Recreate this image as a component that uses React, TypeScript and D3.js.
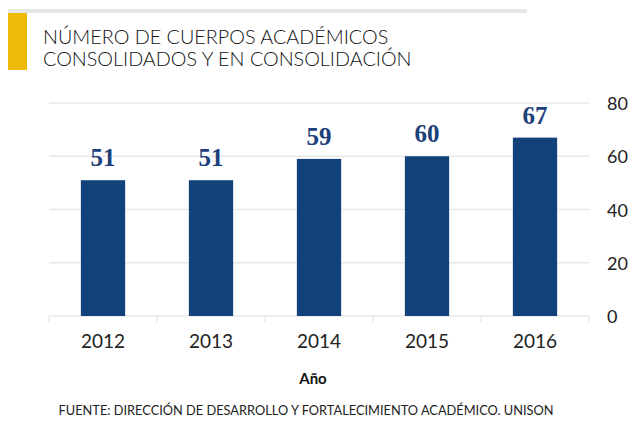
import React, { useRef, useEffect } from "react";
import * as d3 from "d3";

const years = ["2012", "2013", "2014", "2015", "2016"];
const values = [51, 51, 59, 60, 67];
const yTicks = [0, 20, 40, 60, 80];
const titleLines = ["NÚMERO DE CUERPOS ACADÉMICOS", "CONSOLIDADOS Y EN CONSOLIDACIÓN"];
const xTitle = "Año";
const source = "FUENTE: DIRECCIÓN DE DESARROLLO Y FORTALECIMIENTO ACADÉMICO. UNISON";

const App = () => {
    const ref = useRef<SVGSVGElement>(null);

    useEffect(() => {
        if (!ref.current) return;
        const svg = d3.select(ref.current);
        svg.selectAll("*").remove();

        const sans = "Lato, 'Open Sans', sans-serif";
        const left = 49, right = 589, top = 103, bottom = 316;

        // header
        svg.append("rect").attr("x", 8).attr("y", 9).attr("width", 519).attr("height", 4).attr("fill", "#e6e6e6");
        svg.append("rect").attr("x", 8).attr("y", 13).attr("width", 19).attr("height", 57).attr("fill", "#efb908");
        svg.selectAll(".title")
            .data(titleLines)
            .join("text")
            .attr("x", 43)
            .attr("y", (d, i) => 44 + i * 22)
            .attr("font-family", sans)
            .attr("font-size", 19.8)
            .attr("font-weight", 300)
            .attr("fill", "#111")
            .text((d) => d);

        const x = d3.scaleBand().domain(years).range([left, right]).paddingInner(0.59).paddingOuter(0.295);
        const xb = d3.scaleBand().domain(years).range([left, right]);
        const y = d3.scaleLinear().domain([0, 80]).range([bottom, top]);

        // grid
        svg.append("g")
            .selectAll("line")
            .data(yTicks)
            .join("line")
            .attr("x1", left)
            .attr("x2", right)
            .attr("y1", (d) => y(d))
            .attr("y2", (d) => y(d))
            .attr("stroke", "#e8e8e8")
            .attr("stroke-width", 1.5);

        // y labels on the right
        svg.append("g")
            .selectAll("text")
            .data(yTicks)
            .join("text")
            .attr("x", 607)
            .attr("y", (d) => y(d) + 7)
            .attr("font-family", sans)
            .attr("font-size", 18)
            .attr("fill", "#222")
            .text((d) => d);

        // x ticks at band edges
        const edges = years.map((d) => xb(d)!).concat([right]);
        svg.append("g")
            .selectAll("line")
            .data(edges)
            .join("line")
            .attr("x1", (d) => d)
            .attr("x2", (d) => d)
            .attr("y1", bottom)
            .attr("y2", bottom + 6)
            .attr("stroke", "#e0e0e0")
            .attr("stroke-width", 1);

        // bars
        svg.append("g")
            .selectAll("rect")
            .data(values)
            .join("rect")
            .attr("x", (d, i) => x(years[i])!)
            .attr("y", (d) => y(d))
            .attr("width", x.bandwidth())
            .attr("height", (d) => y(0) - y(d))
            .attr("fill", "#13427a");

        // value labels
        svg.append("g")
            .selectAll("text")
            .data(values)
            .join("text")
            .attr("x", (d, i) => x(years[i])! + x.bandwidth() / 2)
            .attr("y", (d) => y(d) - 14)
            .attr("text-anchor", "middle")
            .attr("font-family", "'Liberation Serif', serif")
            .attr("font-weight", "bold")
            .attr("font-size", 25)
            .attr("fill", "#1c4079")
            .text((d) => d);

        // year labels
        svg.append("g")
            .selectAll("text")
            .data(years)
            .join("text")
            .attr("x", (d) => x(d)! + x.bandwidth() / 2)
            .attr("y", 348)
            .attr("text-anchor", "middle")
            .attr("font-family", sans)
            .attr("font-size", 19)
            .attr("fill", "#222")
            .text((d) => d);

        svg.append("text")
            .attr("x", 313)
            .attr("y", 384)
            .attr("text-anchor", "middle")
            .attr("font-family", sans)
            .attr("font-weight", "bold")
            .attr("font-size", 15)
            .attr("fill", "#111")
            .text(xTitle);

        svg.append("text")
            .attr("x", 306)
            .attr("y", 415)
            .attr("text-anchor", "middle")
            .attr("font-family", sans)
            .attr("font-size", 12.8)
            .attr("fill", "#222")
            .text(source);
    }, []);

    return <svg ref={ref} width={628} height={429} style={{ position: "absolute", left: 0, top: 0 }} />;
};

export default App;
